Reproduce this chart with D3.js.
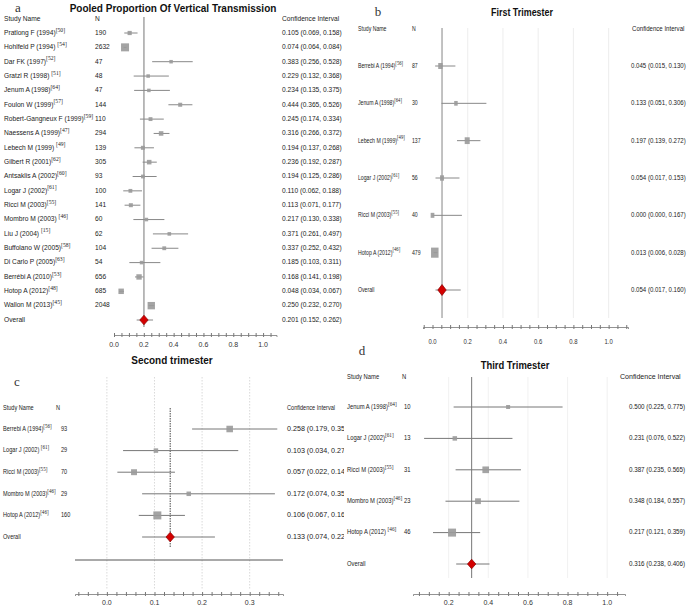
<!DOCTYPE html>
<html><head><meta charset="utf-8">
<script src="https://cdn.jsdelivr.net/npm/d3@7"></script>
<style>html,body{margin:0;padding:0;background:#fff;}svg{display:block;}</style>
</head><body>
<script>
// ---------- Panel a: pooled ----------
const studiesA = ["Pratlong F (1994)","Hohlfeld P (1994) ","Dar FK (1997)","Gratzl R (1998) ","Jenum A (1998)","Foulon W (1999)","Robert-Gangneux F (1999)","Naessens A (1999)","Lebech M (1999) ","Gilbert R (2001)","Antsaklis A (2002)","Logar J (2002)","Ricci M (2003)","Mombro M (2003) ","Liu J (2004) ","Buffolano W (2005)","Di Carlo P (2005)","Berrébi A (2010)","Hotop A (2012)","Wallon M (2013)"];
const refsA = [50,54,52,51,64,57,59,47,49,62,60,61,55,46,15,58,63,53,48,45];
const nA = [190,2632,47,48,47,144,110,294,139,305,93,100,141,60,62,104,54,656,685,2048];
const estA = [0.105,0.074,0.383,0.229,0.234,0.444,0.245,0.316,0.194,0.236,0.194,0.110,0.113,0.217,0.371,0.337,0.185,0.168,0.048,0.250];
const loA = [0.069,0.064,0.256,0.132,0.135,0.365,0.174,0.266,0.137,0.192,0.125,0.062,0.071,0.130,0.261,0.252,0.103,0.141,0.034,0.232];
const hiA = [0.158,0.084,0.528,0.368,0.375,0.526,0.334,0.372,0.268,0.287,0.286,0.188,0.177,0.338,0.497,0.432,0.311,0.198,0.067,0.270];
const overallA = [0.201,0.152,0.262];
const ticksA = [0,0.2,0.4,0.6,0.8,1.0];

// ---------- Panel b: first trimester ----------
const studiesB = ["Berrebi A (1994)","Jenum A (1998)","Lebech M (1999)","Logar J (2002)","Ricci M (2003)","Hotop A (2012)"];
const refsB = [56,64,49,61,55,46];
const nB = [87,30,137,56,40,479];
const estB = [0.045,0.133,0.197,0.054,0.000,0.013];
const loB = [0.015,0.051,0.139,0.017,0.000,0.006];
const hiB = [0.130,0.306,0.272,0.153,0.167,0.028];
const overallB = [0.054,0.017,0.160];
const ticksB = [0,0.2,0.4,0.6,0.8,1.0];

// ---------- Panel c: second trimester ----------
const studiesC = ["Berrebi A (1994)","Logar J (2002) ","Ricci M (2003)","Mombro M (2003)","Hotop A (2012)"];
const refsC = [56,61,55,46,46];
const nC = [93,29,70,29,160];
const estC = [0.258,0.103,0.057,0.172,0.106];
const loC = [0.179,0.034,0.022,0.074,0.067];
const hiC = [0.358,0.276,0.143,0.353,0.164];
const overallC = [0.133,0.074,0.227];
const ticksC = [0,0.1,0.2,0.3];

// ---------- Panel d: third trimester ----------
const studiesD = ["Jenum A (1998)","Logar J (2002)","Ricci M (2003)","Mombro M (2003)","Hotop A (2012) "];
const refsD = [64,61,55,46,46];
const nD = [10,13,31,23,46];
const estD = [0.500,0.231,0.387,0.348,0.217];
const loD = [0.225,0.076,0.235,0.184,0.121];
const hiD = [0.775,0.522,0.565,0.557,0.359];
const overallD = [0.316,0.238,0.406];
const ticksD = [0.2,0.4,0.6,0.8,1.0];

const SANS = "'Liberation Sans', Arial, Helvetica, sans-serif";
const SERIF = "'Liberation Serif', 'DejaVu Serif', serif";
const f3 = d3.format(".3f");

const svg = d3.select("body").append("svg").attr("width",689).attr("height",610);
const defs = svg.append("defs");
defs.append("clipPath").attr("id","clipC").append("rect").attr("x",0).attr("y",340).attr("width",344).attr("height",270);

function addText(g, x, y, str, o={}) {
  const t = g.append("text")
    .attr("transform", `translate(${x},${y}) scale(${o.sx||1},1)`)
    .attr("font-family", o.family||SANS).attr("font-size", o.size||7)
    .attr("fill", o.fill||"#222").attr("dominant-baseline","middle")
    .attr("text-anchor", o.anchor||"start");
  if (o.weight) t.attr("font-weight", o.weight);
  t.text(str);
  return t;
}

function forest(p) {
  const g = svg.append("g");
  if (p.clip) g.attr("clip-path", `url(#${p.clip})`);
  const x = d3.scaleLinear().domain(p.domain).range(p.range);
  const k = p.studies.length;
  const y = d3.scaleLinear().domain([0,k]).range([p.firstY, p.overallY]);
  const bs = d3.scaleSqrt().domain(d3.extent(p.n)).range(p.boxRange);

  addText(g, p.letter[1], p.letter[2], p.letter[0], {family:SERIF, size:13, fill:"#333", anchor:"middle"});
  addText(g, p.title[1], p.title[2], p.title[0], {size:p.titleSize||10, weight:"bold", anchor:"middle", fill:"#111", sx:p.titleSx||1});

  if (p.grid) {
    g.selectAll(null).data(p.grid.vals).join("line")
      .attr("x1", d=>x(d)).attr("x2", d=>x(d)).attr("y1", p.grid.y0).attr("y2", p.grid.y1)
      .attr("stroke", p.grid.color).attr("stroke-width", 0.8)
      .attr("stroke-dasharray", p.grid.dash||null);
  }
  g.append("line").attr("x1", x(p.overall[0])).attr("x2", x(p.overall[0]))
    .attr("y1", p.refY[0]).attr("y2", p.refY[1])
    .attr("stroke", p.refColor||"#666").attr("stroke-width", 0.9)
    .attr("stroke-dasharray", p.refDash||null);

  addText(g, p.labelX, p.headerY, "Study Name", {size:p.fs, sx:p.sx});
  addText(g, p.nHeadX, p.headerY, "N", {size:p.fs, sx:p.sx});
  addText(g, p.ciHeadX, p.headerY, "Confidence Interval", {size:p.hdrFs, sx:p.hdrSx});

  p.studies.forEach((s,i) => {
    const yy = y(i);
    const t = addText(g, p.labelX, yy, s, {size:p.fs, sx:p.sx});
    t.append("tspan").attr("font-family", SERIF).attr("font-size", p.fs*(p.refScale||0.9))
      .attr("dy", -p.fs*0.35).text(`[${p.refs[i]}]`);
    addText(g, p.nX, yy, String(p.n[i]), {size:p.fs, sx:p.sx});
    addText(g, p.ciX, yy, `${f3(p.est[i])} (${f3(p.lo[i])}, ${f3(p.hi[i])})`, {size:p.ciFs, sx:p.ciSx});
    g.append("line").attr("x1", x(p.lo[i])).attr("x2", x(p.hi[i])).attr("y1", yy).attr("y2", yy)
      .attr("stroke", p.whisker||"#888").attr("stroke-width", 1);
    const w = bs(p.n[i]), h = w*(p.boxAspect||1);
    g.append("rect").attr("x", x(p.est[i])-w/2).attr("y", yy-h/2).attr("width", w).attr("height", h)
      .attr("fill", "#9a9a9a").attr("fill-opacity", 0.9);
  });
  const yo = y(k);
  addText(g, p.labelX, yo, "Overall", {size:p.fs, sx:p.sx});
  addText(g, p.ciX, yo, `${f3(p.overall[0])} (${f3(p.overall[1])}, ${f3(p.overall[2])})`, {size:p.ciFs, sx:p.ciSx});
  g.append("line").attr("x1", x(p.overall[1])).attr("x2", x(p.overall[2])).attr("y1", yo).attr("y2", yo)
    .attr("stroke", p.whisker||"#888").attr("stroke-width", 1);
  const cx = x(p.overall[0]), dw = 4.2, dh = p.diaH||4.8;
  g.append("path").attr("d", `M${cx-dw},${yo}L${cx},${yo-dh}L${cx+dw},${yo}L${cx},${yo+dh}Z`)
    .attr("fill", "#d40000").attr("stroke", "#8a0000").attr("stroke-width", 0.7);

  if (p.hline) {
    g.append("line").attr("x1", p.range[0]).attr("x2", p.range[1]).attr("y1", p.hline).attr("y2", p.hline)
      .attr("stroke", "#555").attr("stroke-width", 1);
  }

  const axis = d3.axisBottom(x).tickValues(p.minor).tickSize(2).tickFormat("");
  const ag = g.append("g").attr("transform", `translate(0,${p.axisY})`).call(axis);
  ag.select(".domain").attr("stroke", "#777").attr("stroke-width", 0.8);
  ag.selectAll(".tick line").attr("y1", -2).attr("y2", 2).attr("stroke", "#777");
  p.ticks.forEach(v => {
    addText(g, x(v), p.axisY + p.labelOff, d3.format(".1f")(v), {size:7, anchor:"middle", fill:"#333", sx:p.axisSx||1});
  });
}

const step = (a, b, s) => d3.range(Math.round((b-a)/s)+1).map(i => +(a + i*s).toFixed(3));

forest({
  studies: studiesA, refs: refsA, n: nA, est: estA, lo: loA, hi: hiA, overall: overallA, ticks: ticksA,
  domain: [0, 1.09], range: [114, 276.5], firstY: 33, overallY: 320,
  boxRange: [3.5, 8], letter: ["a", 18, 9], title: ["Pooled Proportion Of Vertical Transmission", 173, 9],
  labelX: 4, nX: 95, nHeadX: 95, ciX: 282, ciHeadX: 282, headerY: 19,
  fs: 7, sx: 0.95, refScale: 0.85, ciFs: 7, ciSx: 0.95, hdrFs: 7, hdrSx: 0.95,
  refY: [17, 327], refColor: "#666",
  axisY: 335, labelOff: 10, minor: step(0, 1.05, 0.05)
});

forest({
  studies: studiesB, refs: refsB, n: nB, est: estB, lo: loB, hi: hiB, overall: overallB, ticks: ticksB,
  domain: [-0.054, 1.11], range: [423, 628], firstY: 66, overallY: 290,
  boxRange: [3.5, 7.5], boxAspect: 1.35, diaH: 5.5, letter: ["b", 378, 13], title: ["First Trimester", 522, 13],
  titleSize: 10.5, titleSx: 0.85,
  labelX: 358, nX: 412, nHeadX: 412, ciX: 631, ciHeadX: 632, headerY: 29,
  fs: 7, sx: 0.74, ciFs: 7, ciSx: 0.87, hdrFs: 7, hdrSx: 0.87,
  grid: {vals: [0.2,0.4,0.6,0.8,1.0], y0: 28, y1: 318, color: "#e8e8e8"},
  refY: [28, 318], refColor: "#777",
  axisY: 327, labelOff: 15, minor: step(-0.05, 1.1, 0.05), axisSx: 0.85
});

forest({
  studies: studiesC, refs: refsC, n: nC, est: estC, lo: loC, hi: hiC, overall: overallC, ticks: ticksC,
  domain: [-0.067, 0.37], range: [75, 283], firstY: 429, overallY: 537,
  boxRange: [4.5, 8], letter: ["c", 17, 383], title: ["Second trimester", 172, 361],
  titleSize: 10.5, titleSx: 0.95, clip: "clipC",
  labelX: 3, nX: 61, nHeadX: 56, ciX: 287, ciHeadX: 287, headerY: 408,
  fs: 6.5, sx: 0.86, ciFs: 7.3, ciSx: 0.98, hdrFs: 6.5, hdrSx: 0.86,
  grid: {vals: [0,0.1,0.2,0.3], y0: 377, y1: 590, color: "#cfcfcf", dash: "1.5,1.5"},
  refY: [408, 548], refColor: "#333", refDash: "1.5,1", whisker: "#777",
  hline: 560,
  axisY: 594, labelOff: 9, minor: step(-0.06, 0.36, 0.02)
});

forest({
  studies: studiesD, refs: refsD, n: nD, est: estD, lo: loD, hi: hiD, overall: overallD, ticks: ticksD,
  domain: [0.02, 1.09], range: [413, 625], firstY: 407, overallY: 564,
  boxRange: [4, 8], letter: ["d", 362, 352], title: ["Third Trimester", 515, 366],
  titleSize: 10.5, titleSx: 0.9,
  labelX: 347, nX: 404, nHeadX: 402, ciX: 629, ciHeadX: 620, headerY: 377,
  fs: 6.5, sx: 0.9, ciFs: 6.5, ciSx: 0.96, hdrFs: 7.2, hdrSx: 0.98,
  grid: {vals: [0.2,0.4,0.6,0.8,1.0], y0: 377, y1: 578, color: "#eeeeee"},
  refY: [377, 578], refColor: "#666", whisker: "#777",
  axisY: 594, labelOff: 9, minor: step(0.05, 1.05, 0.05)
});
</script>
</body></html>
